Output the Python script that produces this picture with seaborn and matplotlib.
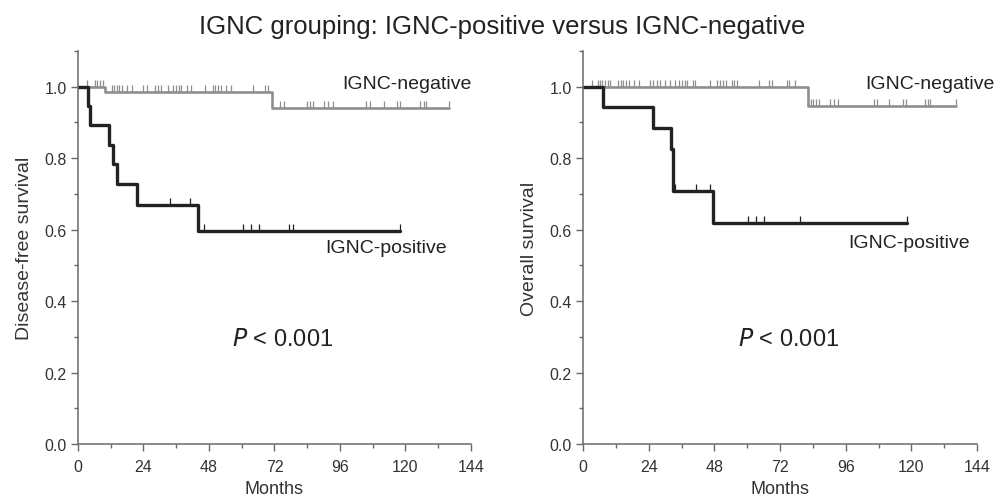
import numpy as np
import pandas as pd
import matplotlib
matplotlib.use("Agg")
import matplotlib.pyplot as plt
import seaborn as sns

# Kaplan-Meier curves (months, survival after each drop)
dfs_pos_t = [0, 3.6, 4.5, 11.5, 12.9, 14.2, 21.5, 44.0, 118.0]
dfs_pos_s = [1.0, 0.947, 0.892, 0.837, 0.784, 0.728, 0.670, 0.597, 0.597]
dfs_pos_cens = [33.7, 41.0, 46.2, 60.3, 63.3, 66.3, 77.4, 78.9, 117.9]

dfs_neg_t = [0, 9.9, 71.0, 136.0]
dfs_neg_s = [1.0, 0.984, 0.941, 0.941]
dfs_neg_cens = [3.2, 6.2, 6.8, 8.1, 9.0, 12.3, 13.2, 14.2, 15.1, 16.0, 17.8, 19.7,
                23.9, 25.4, 28.2, 29.4, 30.6, 33.1, 34.9, 35.9, 36.9, 37.8, 39.8,
                41.3, 46.5, 49.3, 50.3, 51.3, 52.3, 54.2, 55.9, 64.2, 68.5, 69.7,
                74.0, 75.5, 83.8, 85.0, 86.2, 90.1, 91.7, 93.3, 105.7, 107.2,
                112.1, 117.0, 118.2, 125.3, 126.7, 127.7, 136.0]

os_pos_t = [0, 7.4, 25.5, 32.2, 33.0, 47.4, 118.3]
os_pos_s = [1.0, 0.943, 0.884, 0.826, 0.708, 0.619, 0.619]
os_pos_cens = [33.5, 41.3, 46.4, 60.4, 63.2, 66.2, 79.3, 118.3]

os_neg_t = [0, 82.4, 136.3]
os_neg_s = [1.0, 0.946, 0.946]
os_neg_cens = [3.4, 5.4, 6.2, 7.1, 8.0, 9.0, 9.9, 12.9, 13.9, 14.7, 15.7, 16.7,
               18.6, 20.4, 24.5, 25.7, 26.9, 28.1, 30.1, 31.8, 33.5, 35.2, 36.2,
               37.2, 38.1, 40.1, 41.1, 46.4, 49.1, 50.1, 51.3, 52.3, 54.3, 55.3,
               56.2, 64.3, 68.1, 69.1, 74.4, 75.4, 77.5, 83.2, 84.2, 85.2, 86.1,
               90.3, 91.7, 93.3, 106.4, 107.3, 112.0, 117.1, 118.1, 125.0, 126.0,
               126.9, 136.3]

ylabels = ["Disease-free survival", "Overall survival"]
p_text = "$\\it{P}$ < 0.001"

sns.set_style("ticks")
plt.rcParams["font.family"] = ["Liberation Sans", "DejaVu Sans"]

pos_color = "#222222"
neg_color = "#8e8e8e"
axis_color = "#6a6a6a"
cens_marker = [(0, 0), (0, 1)]


def km_frame(t, s):
    return pd.DataFrame({"Months": t, "Survival": s})


def cens_y(t, s, c):
    idx = np.searchsorted(np.array(t), np.array(c), side="right") - 1
    return np.array(s)[idx]


def draw_panel(ax, pos, neg, ylabel, neg_lab_xy, pos_lab_xy):
    for (t, s, c), col, lw in [(neg, neg_color, 1.9), (pos, pos_color, 2.4)]:
        sns.lineplot(data=km_frame(t, s), x="Months", y="Survival", ax=ax,
                     drawstyle="steps-post", color=col, linewidth=lw,
                     estimator=None, sort=False)
        ax.plot(c, cens_y(t, s, c), linestyle="none", marker=cens_marker,
                markersize=10, markeredgewidth=0.9, color=col, clip_on=False)

    ax.set_xlim(0, 144)
    ax.set_ylim(0, 1.1)
    ax.set_xticks(np.arange(0, 145, 24))
    ax.set_xticks(np.arange(12, 145, 24), minor=True)
    ax.set_yticks(np.arange(0, 1.01, 0.2))
    ax.set_yticks(np.arange(0.1, 1.11, 0.2), minor=True)
    ax.set_yticklabels([f"{v:.1f}" for v in np.arange(0, 1.01, 0.2)])
    ax.tick_params(which="major", length=5, width=1, color=axis_color,
                   labelsize=11.5, labelcolor="#333333", pad=3)
    ax.tick_params(axis="x", which="major", pad=6)
    ax.tick_params(which="minor", length=3, width=1, color=axis_color)
    for sp in ["left", "bottom"]:
        ax.spines[sp].set_color(axis_color)
        ax.spines[sp].set_linewidth(1.1)
    sns.despine(ax=ax)
    ax.set_xlabel("Months", fontsize=13, color="#333333", labelpad=4)
    ax.set_ylabel(ylabel, fontsize=14, color="#333333", labelpad=8)

    ax.text(neg_lab_xy[0], neg_lab_xy[1], "IGNC-negative", fontsize=14,
            color="#222222", va="center", ha="left", clip_on=False)
    ax.text(pos_lab_xy[0], pos_lab_xy[1], "IGNC-positive", fontsize=14,
            color="#222222", va="center", ha="left")
    ax.text(75, 0.294, p_text, fontsize=17, color="#222222",
            va="center", ha="center")


fig = plt.figure(figsize=(10.04, 5.02), dpi=100)
ax1 = fig.add_axes([0.0777, 0.1135, 0.3913, 0.7829])
ax2 = fig.add_axes([0.5807, 0.1135, 0.3924, 0.7829])

draw_panel(ax1, (dfs_pos_t, dfs_pos_s, dfs_pos_cens),
           (dfs_neg_t, dfs_neg_s, dfs_neg_cens), ylabels[0],
           (96.7, 1.008), (90.5, 0.549))
draw_panel(ax2, (os_pos_t, os_pos_s, os_pos_cens),
           (os_neg_t, os_neg_s, os_neg_cens), ylabels[1],
           (103.0, 1.008), (96.9, 0.563))

fig.suptitle("IGNC grouping: IGNC-positive versus IGNC-negative",
             fontsize=18.5, color="#222222", y=0.946, va="center")

fig.savefig("out.png", dpi=100)
